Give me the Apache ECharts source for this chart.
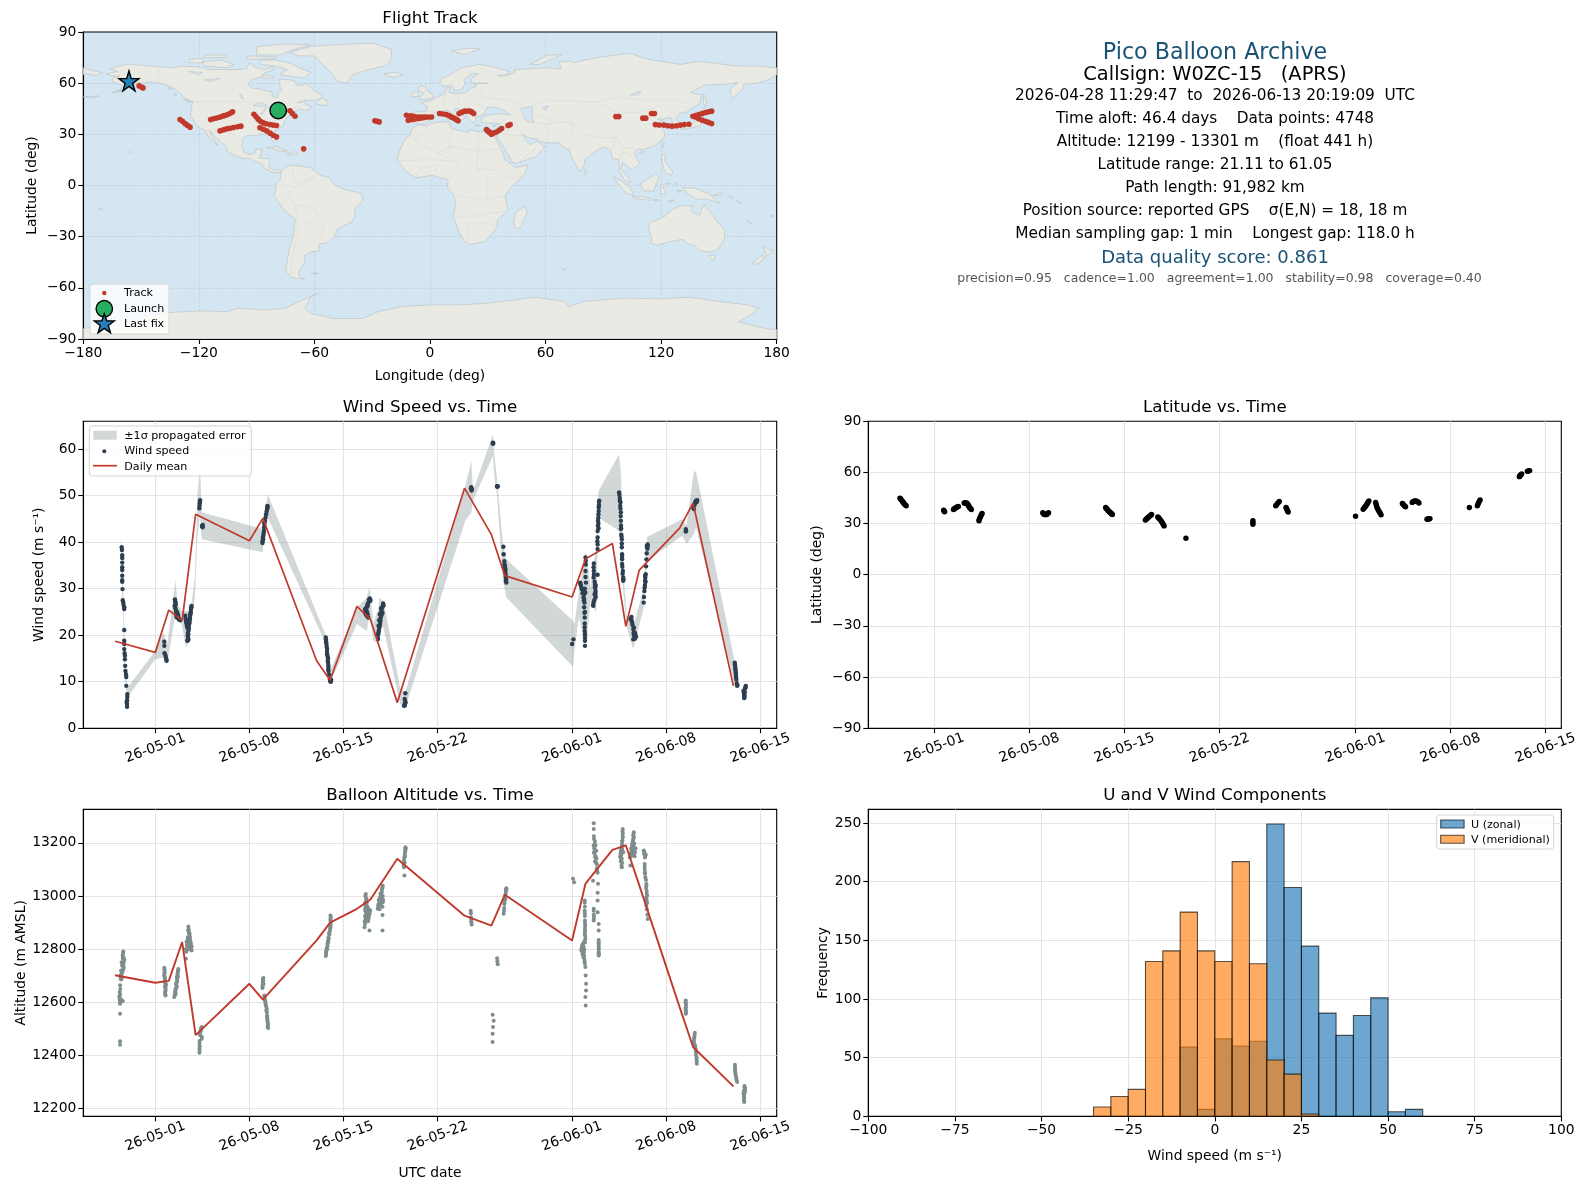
<!DOCTYPE html>
<html><head><meta charset="utf-8">
<script src="https://cdn.jsdelivr.net/npm/echarts@6/dist/echarts.min.js"></script>
<style>html,body{margin:0;padding:0;background:#fff}#c{width:1587px;height:1189px}</style>
</head><body><div id="c"></div>
<script>
// ---------- DATA (days are counted from 2026-05-01 00:00 UTC) ----------
const dateTicks = [0, 7, 14, 21, 31, 38, 45];
const dateTickLabels = ['26-05-01','26-05-08','26-05-15','26-05-22','26-06-01','26-06-08','26-06-15'];

const trackLonLat = [[-151,58.4],[-149.5,57.6],[-149,57.2],
[-129.8,38.7],[-128.5,37.6],[-127.2,36.3],[-126,35.3],[-124.6,34.2],
[-113.9,38.7],[-112.4,39.1],[-110.8,39.6],[-109,40.1],[-107.3,40.8],[-106,41.2],[-104.7,41.8],[-103.5,42.5],[-102.5,43.2],
[-109,32],[-107.3,32.6],[-105.6,33.2],[-103.9,33.6],[-102.1,34],[-100,34.4],[-98.2,34.8],
[-91.4,41.8],[-90.3,40.3],[-89.2,38.9],[-88,37.7],[-86.6,36.7],[-85,36.2],[-83.1,35.7],[-81.4,35.4],[-79.7,35.2],
[-88.3,33.8],[-86.5,33],[-84.8,32],[-83,30.7],[-81.4,29.5],[-79.7,28.5],
[-72.7,43.8],[-71.4,42.2],[-70.1,40.6],[-65.6,21.5],
[-28.6,37.9],[-27.4,37.7],[-26.4,37.3],
[-12.2,41.2],[-10,40.9],[-8.5,40.6],[-7,40.2],[-5.5,40.2],[-4,40.2],[-2.5,40.2],[-1,40.2],[0.8,40.2],[-11.3,38.3],[-9.5,38.7],[-7.8,39],[-6,39.3],[-4.5,39.6],[-3,39.9],
[5,42.2],[6.8,41.9],[8.5,41.6],[10,40.9],[11.1,40.2],[12,39.7],[12.8,39.3],[13.8,38.6],[14.6,37.9],
[15.1,42.2],[16.5,43],[18,43.6],[19.4,43.7],[20.7,43.6],[21.8,43],[22.7,42.2],
[29.3,32.8],[30.5,31.5],[31.9,30.1],[33.2,30.8],[34.5,31.4],[35.9,32.4],[37.2,33.4],[30,32],[31.2,31],[32.5,30.6],[40.5,35.2],[41.6,35.7],
[96.5,40.4],[98,40.4],[110.5,39.5],[112,39.5],[115,42.2],[116.5,42.2],
[117,35.7],[119,35.5],[121.4,35.4],[123.5,35],[125.7,34.8],[128,35],[130,35.4],[132,35.7],[134.4,35.9],
[136.5,40.6],[138,41],[139.5,41.6],[141.3,42.2],[143,42.8],[144.6,43.2],[146.2,43.6],
[137.8,40.2],[139.5,39.2],[141.3,38.3],[143,37.6],[144.6,37],[146.2,36.3]];
const launchLonLat = [-78.8, 44];
const lastFixLonLat = [-156.3, 61.3];

const windPoints = [[-2.5,38.9],[-2.48,38.3],[-2.46,37.2],[-2.46,36.6],[-2.46,35.6],[-2.46,34.6],[-2.46,34],[-2.46,32.8],[-2.46,31.8],[-2.46,31.5],[-2.44,29.9],[-2.42,27.5],[-2.38,27],[-2.36,26.5],[-2.31,26],[-2.31,25.6],[-2.31,21.1],[-2.31,18.8],[-2.31,18.1],[-2.31,17],[-2.28,16.1],[-2.26,15.6],[-2.26,14.8],[-2.24,13.4],[-2.22,12.3],[-2.18,11.6],[-2.16,11],[-2.16,9.1],[-2.08,7.3],[-2.08,6.7],[-2.1,6],[-2.13,5.5],[-2.1,5.2],[-2.1,4.6],
[0.67,18.6],[0.67,17.7],[0.69,16.1],[0.76,15.6],[0.79,15.2],[0.82,14.8],[0.84,14.5],
[1.46,27.7],[1.5,27],[1.44,26.3],[1.54,25.2],[1.62,25],[1.68,24.5],[1.6,23.8],[1.75,23.4],[1.84,23.2],[1.56,24.2],[1.7,24],
[1.52,26.6],[1.5,25.8],[1.58,24.6],[1.64,24.3],[1.72,23.8],[1.8,23.4],[1.48,27.3],
[2.23,24.2],[2.28,23.1],[2.33,22.4],[2.38,21.6],[2.46,20.9],[2.41,19.9],[2.46,19.1],[2.38,18.8],[2.58,23.8],[2.63,24.9],[2.68,25.9],[2.7,26.3],[2.55,22.6],[2.5,21.4],[2.45,20.2],[2.6,24.4],
[2.26,23.6],[2.3,22.8],[2.35,22],[2.42,20.5],[2.44,19.5],[2.43,18.9],[2.5,22],[2.53,23],[2.57,23.4],[2.62,24.6],[2.65,25.4],[2.67,26],
[3.33,49],[3.3,48.3],[3.28,47.3],[3.5,43.4],[3.53,43.7],[3.32,48.7],[3.29,47.8],[3.47,43.5],[3.52,43.2],
[7.97,39.8],[8.02,40.6],[8.04,41.4],[8.08,42.4],[8.09,43.2],[8.16,44.6],[8.24,46],[8.31,47.1],[8.36,47.6],
[7.98,40.2],[8,41],[8.06,41.9],[8.12,43.9],[8.2,45.3],[8.28,46.6],[8.33,47.3],[8.34,47.8],[8.1,44.2],
[12.68,19.5],[12.7,18.8],[12.73,18.1],[12.78,17],[12.78,15.9],[12.85,15],[12.85,14.1],[12.88,13.2],[12.88,12.3],[12.99,10.5],[13.04,10],[13.08,10.4],
[12.69,19.1],[12.71,18.4],[12.75,17.5],[12.77,16.4],[12.82,15.4],[12.83,14.5],[12.87,13.6],[12.87,12.7],[12.93,11.5],[13,10.2],[13.06,10.1],
[15.6,25.6],[15.73,26],[15.8,26.3],[15.93,27.4],[15.98,27.7],[15.66,24.5],[15.84,23.8],[15.75,25],[15.7,25.2],
[15.62,25],[15.68,25.8],[15.78,26.6],[15.85,27],[15.9,27.7],[15.95,27.9],[15.72,24.2],[15.8,24.5],[15.62,24.8],[16,27.4],
[16.55,19.9],[16.6,20.6],[16.67,21.6],[16.75,23.1],[16.8,24.9],[16.87,25.9],[16.95,26.8],[16.6,22],[16.72,22.5],[16.8,25.8],[16.9,24.8],
[16.58,20.2],[16.63,21],[16.7,22],[16.77,23.8],[16.83,25.4],[16.92,26.3],[16.98,26.4],[16.65,23.2],[16.7,24.5],[16.82,24.3],[16.57,19.2],
[18.6,7.5],[18.58,5.9],[18.5,4.8],[18.55,5.2],[18.55,6.3],[18.62,5.5],[18.56,4.9],
[23.48,51.6],[23.55,51.4],[23.5,51.8],[23.52,51.1],[25.1,61.2],[25.14,61.2],[25.12,61.4],[25.42,52],[25.47,52],[25.44,51.9],
[25.89,39],[25.91,37.4],[25.96,35.9],[26,35],[26.05,34],[26.06,33],[26.09,32],[26.11,31.3],[25.97,35.2],[26.02,34.5],[26.03,33.5],[26.07,32.5],[26.09,31.6],[25.98,34.4],
[31,18.1],[31.1,19.1],
[31.6,31.3],[31.72,29.9],[31.85,28.1],[31.9,26],[31.94,23.8],[31.94,20.9],[31.96,19.5],[31.96,18.8],[31.96,17.7],[32,36.7],[32,33.8],[32.03,31.3],[31.98,29.2],[31.92,27],[31.96,25],[31.94,22.5],
[31.65,30.7],[31.78,29],[31.88,27.5],[31.7,30.2],[31.62,31],[31.82,29.4],[31.9,28.8],[31.92,24.8],[31.94,21.7],[31.96,20.2],[32.02,35.2],[32,32.5],[31.95,30],[31.9,27.8],[32.02,36],
[32.62,35.4],[32.62,33.8],[32.6,32.4],[32.7,31],[32.75,29.5],[32.75,28.1],[32.58,26.3],[32.9,38.5],[32.9,41],[32.9,42.4],[32.93,44.6],[32.96,46],[32.98,47.5],[33,48.7],[32.9,33],[32.65,27.5],[32.72,30.2],[32.92,43.5],[32.95,45.2],
[32.6,34.6],[32.62,33],[32.68,31.5],[32.7,30.3],[32.73,29],[32.68,28.8],[32.6,27],[32.56,26.5],[32.74,28.5],[32.76,30.7],[32.9,39.5],[32.88,40.2],[32.96,44],[32.98,46.7],[33,48],[33.02,48.9],[32.97,43],
[34.5,50.7],[34.55,49.5],[34.58,47.8],[34.63,46.4],[34.63,44.6],[34.63,42.8],[34.7,40.6],[34.7,38.9],[34.72,37.4],[34.72,35.3],[34.78,33.8],[34.8,32.4],[34.8,31.7],[34.6,48.6],[34.66,41.6],[34.72,36.3],
[34.52,50.2],[34.55,48.9],[34.6,47.2],[34.62,45.6],[34.64,43.6],[34.68,41.2],[34.7,39.7],[34.72,36.8],[34.74,34.7],[34.76,33.2],[34.82,32],[34.65,43],
[35.35,23.4],[35.47,22.7],[35.6,21.6],[35.65,20.6],[35.68,19.5],[35.55,19.1],[35.75,19.7],[35.42,23.9],[35.6,20.2],
[35.38,23.6],[35.44,23.1],[35.5,22.2],[35.55,21.3],[35.58,20.5],[35.62,19.8],[35.7,20.3],[35.65,19.2],[35.72,19.5],
[36.33,27],[36.38,29.5],[36.43,31.7],[36.48,33.1],[36.53,36.3],[36.58,38.9],[36.63,39.2],[36.45,32.4],
[36.35,28.2],[36.4,30.3],[36.42,30.8],[36.5,34.8],[36.55,37.6],[36.6,38.6],[36.62,39.5],[36.56,39.2],[36.47,31.5],[36.43,32.8],
[39.46,42.8],[39.46,42.3],[39.48,42.5],[40.06,47.1],[40.18,48.7],[40.3,49],[40.1,48],[40.12,48.2],[40.22,48.9],[40.26,48.6],[40.02,47.4],[40.14,48.4],
[43.1,14.1],[43.15,12.7],[43.2,10.9],[43.28,9.1],[43.13,13.4],[43.18,11.8],[43.75,8],[43.8,6.5],[43.92,9.1],[43.82,7.2],[43.87,8.6],
[43.11,13.7],[43.14,13],[43.17,12.2],[43.19,11.3],[43.22,10.4],[43.25,9.6],[43.3,9.3],[43.78,7.6],[43.8,7],[43.83,6.7],[43.85,7.8],[43.9,8.8]];
const bandDays = [-2.53,-2.46,-2.38,-2.31,-2.18,-2.08,0,0.6,0.89,1.22,1.51,1.64,1.96,2.28,2.58,2.7,2.95,3.13,3.33,3.45,7.99,8.16,8.36,12.7,13,15,15.73,15.93,16.23,16.6,16.67,16.97,18.21,18.59,23.06,23.51,23.63,25.12,25.22,25.42,25.86,26.11,31.07,31.17,31.5,32.02,32.37,32.79,32.96,34.5,34.65,34.8,35.09,35.54,36.33,36.58,39.19,39.51,40.06,40.23,43.08];
const bandHigh = [41,38.9,29.5,21.6,11.6,8.7,16.6,20.6,18.1,25.2,32,26.7,25.2,25.2,25.2,27,32.4,50.3,56.4,46.4,42.8,46,50.3,19.9,12.3,25.9,28.1,30.4,22.4,25.9,28.1,27.4,8.7,7.7,52.1,57.5,51,63.2,58.9,53.5,39.6,36.3,23.1,22.4,29.2,38.1,30.3,39.2,51,58.9,53.9,33.8,23.8,21.6,30.3,41.1,44.9,43.5,55.3,55,14.5];
const bandLow = [36.7,28.1,23.1,11.6,8.7,6.6,14.8,15.2,14.1,19.5,25.2,23.4,22.4,17.3,19.5,23.8,28.1,41,46,40.6,37.8,43.2,45.3,18.1,9.8,22.4,20.9,24.5,18.8,18.1,22.4,21.6,5.2,4.4,44.6,46.4,48.9,58.6,53.9,50,31.7,28.1,13.2,16.6,23.8,17.3,27.4,24.9,45.3,42.4,39.6,29.5,21.6,17,25.9,36,41.4,39.6,41.7,43.2,9.5];
const meanDays = [-3,0,1,2,3,7,8,12,13,15,16,18,23,25,26,31,32,34,35,36,39,40,43];
const windMean = [18.7,16.3,25.4,23.2,46,40.3,45.1,14.5,10.3,26.2,23.4,5.5,51.6,41.6,32.8,28.2,36.4,39.7,21.9,34,43,48.4,9.1];
const altMean = [12702,12674,12681,12827,12477,12670,12610,12833,12900,12952,12987,13140,12926,12889,13005,12833,13047,13174,13191,13040,12582,12432,12284];

const altPoints = [[-2.38,12791],[-2.43,12776],[-2.5,12751],[-2.38,12739],[-2.3,12760],[-2.35,12730],[-2.55,12720],[-2.6,12701],[-2.55,12686],[-2.45,12745],[-2.5,12710],[-2.62,12664],[-2.65,12639],[-2.68,12620],[-2.62,12595],[-2.42,12605],[-2.65,12610],[-2.62,12557],[-2.62,12454],[-2.62,12441],
[-2.4,12785],[-2.37,12770],[-2.42,12765],[-2.35,12750],[-2.47,12738],[-2.4,12722],[-2.45,12715],[-2.52,12700],[-2.58,12692],[-2.5,12690],[-2.6,12650],[-2.62,12630],[-2.65,12625],[-2.63,12600],[-2.55,12612],
[0.67,12730],[0.67,12707],[0.7,12682],[0.79,12664],[0.76,12645],[0.76,12626],[0.68,12718],[0.7,12695],[0.75,12672],[0.75,12655],[0.72,12635],
[0.69,12725],[0.7,12712],[0.66,12700],[0.72,12690],[0.74,12678],[0.78,12668],[0.77,12650],[0.74,12640],[0.75,12630],[0.72,12660],
[1.71,12726],[1.66,12701],[1.59,12676],[1.54,12651],[1.46,12630],[1.41,12620],[1.68,12714],[1.62,12688],[1.56,12664],[1.5,12640],
[1.7,12720],[1.65,12708],[1.6,12695],[1.63,12680],[1.55,12670],[1.6,12660],[1.5,12650],[1.47,12640],[1.44,12625],[1.52,12632],[1.68,12695],
[2.46,12885],[2.51,12864],[2.58,12845],[2.65,12820],[2.7,12795],[2.33,12827],[2.28,12801],[2.28,12764],[2.48,12875],[2.55,12855],[2.6,12833],[2.68,12808],[2.4,12835],[2.35,12815],[2.5,12820],[2.45,12800],
[2.45,12870],[2.52,12860],[2.5,12845],[2.55,12840],[2.42,12845],[2.37,12830],[2.45,12815],[2.62,12825],[2.3,12790],[2.38,12800],[2.6,12810],[2.55,12825],[2.65,12800],[2.7,12810],[2.48,12835],
[3.45,12507],[3.33,12488],[3.45,12463],[3.28,12444],[3.28,12426],[3.28,12410],[3.4,12498],[3.35,12475],[3.42,12503],[3.38,12492],[3.47,12470],[3.32,12480],[3.3,12455],[3.3,12435],[3.3,12418],
[8.04,12692],[7.99,12676],[7.97,12654],[8.03,12682],[7.98,12665],[8.11,12626],[8.19,12601],[8.29,12576],[8.31,12551],[8.36,12526],[8.39,12504],[8.14,12613],[8.22,12590],[8.3,12563],[8.34,12538],[8.38,12515],
[8,12688],[8.05,12670],[7.98,12660],[8.01,12685],[8.12,12620],[8.16,12608],[8.2,12595],[8.24,12585],[8.26,12570],[8.32,12545],[8.33,12532],[8.37,12520],[8.35,12508],
[13.03,12927],[13.05,12895],[13,12877],[12.88,12845],[12.8,12820],[12.7,12789],[12.68,12774],[13.03,12912],[13.02,12886],[12.93,12860],[12.84,12832],[12.75,12805],
[13.05,12920],[13.04,12905],[13.03,12880],[12.98,12868],[12.95,12855],[12.9,12838],[12.86,12826],[12.82,12812],[12.78,12800],[12.72,12795],[12.7,12780],
[15.66,13008],[15.73,12977],[15.61,12946],[15.98,12946],[15.63,12908],[15.85,12914],[15.56,12883],[15.93,12870],[15.7,12992],[15.78,12960],[15.68,12930],[15.9,12930],[15.8,12925],[15.6,12895],
[15.62,13000],[15.68,12985],[15.7,12970],[15.75,12960],[15.65,12965],[15.62,12955],[15.7,12945],[15.8,12950],[15.85,12940],[15.9,12950],[15.95,12935],[15.6,12925],[15.65,12915],[15.72,12910],[15.82,12905],[15.58,12905],[15.88,12920],[15.66,12940],[15.6,12975],
[16.92,13039],[16.85,13014],[16.72,12996],[16.55,12952],[16.65,12964],[16.92,12977],[16.9,12929],[16.9,12870],[16.88,13027],[16.78,13005],[16.6,12970],[16.8,12985],[16.7,12980],
[16.9,13032],[16.85,13025],[16.82,13000],[16.75,13010],[16.7,12990],[16.62,12985],[16.6,12958],[16.68,12950],[16.78,12970],[16.86,12990],[16.92,13000],[16.95,12985],[16.9,12960],[16.58,12965],[16.72,12975],
[18.61,13184],[18.58,13165],[18.53,13146],[18.46,13121],[18.5,13108],[18.53,13077],[18.6,13175],[18.55,13155],[18.6,13170],[18.57,13150],[18.5,13135],[18.48,13115],[18.55,13125],[18.62,13180],
[23.46,12945],[23.48,12920],[23.53,12893],[23.5,12905],[23.47,12935],[23.5,12915],[23.52,12900],
[26.11,13029],[26.03,13002],[25.96,12970],[25.91,12933],[26.08,13016],[26,12985],[26.09,13022],[26.1,13026],[26.05,13008],[26,12995],[25.97,12975],[25.95,12955],[26.04,12990],[25.93,12945],
[25.42,12766],[25.47,12743],[25.44,12755],[25.09,12553],[25.17,12531],[25.12,12507],[25.09,12482],[25.09,12451],
[31.07,13065],[31.15,13052],[31.94,12983],[31.94,12945],[31.96,12908],[31.96,12870],[31.99,12839],[31.74,12808],[31.86,12789],[31.91,12764],[31.99,12733],[32.01,12701],[32.04,12670],[32.04,12645],[31.99,12620],[32.01,12588],[31.7,12795],[31.8,12820],[31.85,12770],[31.95,12960],[31.95,12925],[31.97,12890],[31.95,12855],[31.9,12800],[31.78,12780],[31.92,12830],
[31.7,12800],[31.75,12815],[31.8,12800],[31.85,12810],[31.88,12795],[31.82,12785],[31.76,12790],[31.72,12805],[31.9,12775],[31.93,12755],[31.95,12745],[31.94,12975],[31.95,12935],[31.96,12900],[31.96,12880],[31.95,12865],[31.98,12850],[31.96,12825],
[32.61,13274],[32.61,13252],[32.63,13215],[32.74,13190],[32.66,13159],[32.81,13140],[32.86,13096],[32.56,13058],[32.93,13046],[32.9,13012],[32.9,12983],[32.9,12939],[32.61,12952],[32.61,12908],[32.98,12895],[32.98,12870],[32.98,12826],[32.98,12801],[32.98,12776],[32.7,13205],[32.65,13180],[32.8,13170],[32.72,13145],[32.85,13120],[32.61,12930],[32.98,12812],[32.98,12790],
[32.62,13225],[32.68,13195],[32.72,13170],[32.6,13190],[32.63,13165],[32.75,13150],[32.7,13130],[32.78,13125],[32.85,13105],[32.9,13088],[32.61,12945],[32.63,12925],[32.61,12915],[32.98,12835],[32.98,12820],[32.98,12805],[32.98,12785],[32.98,12780],
[34.77,13252],[34.77,13221],[34.72,13190],[34.6,13159],[34.65,13134],[34.7,13108],[34.77,13238],[34.72,13205],[34.68,13175],[34.6,13145],[34.72,13125],
[34.75,13245],[34.76,13230],[34.74,13210],[34.72,13195],[34.7,13180],[34.62,13170],[34.58,13150],[34.66,13155],[34.7,13140],[34.62,13130],[34.68,13115],[34.75,13170],[34.8,13165],
[35.59,13240],[35.54,13215],[35.46,13190],[35.64,13165],[35.29,13159],[35.34,13115],[35.55,13228],[35.5,13202],[35.6,13180],[35.42,13170],[35.65,13150],[35.55,13190],
[35.57,13232],[35.6,13220],[35.52,13208],[35.48,13195],[35.62,13198],[35.58,13170],[35.5,13175],[35.45,13160],[35.4,13180],[35.68,13165],[35.65,13175],[35.3,13145],[35.6,13155],[35.38,13150],[35.72,13180],
[36.33,13171],[36.45,13152],[36.4,13121],[36.43,13083],[36.53,13039],[36.58,13002],[36.53,12964],[36.63,12914],[36.35,13158],[36.4,13100],[36.5,13060],[36.55,13020],[36.55,12985],
[36.38,13165],[36.42,13145],[36.4,13110],[36.42,13090],[36.45,13070],[36.52,13045],[36.5,13030],[36.55,13010],[36.52,12995],[36.58,12975],[36.56,12950],[36.6,12930],[36.48,13155],
[39.46,12607],[39.46,12582],[39.46,12557],[39.46,12595],[39.46,12570],[39.44,12600],[39.48,12590],[39.44,12575],[39.48,12562],
[40.13,12486],[40.06,12457],[40.18,12426],[40.26,12394],[40.28,12369],[40.1,12470],[40.14,12440],[40.22,12410],[40.12,12478],[40.08,12465],[40.05,12450],[40.16,12432],[40.2,12418],[40.22,12402],[40.26,12385],[40.27,12378],
[43.11,12365],[43.13,12344],[43.2,12319],[43.28,12300],[43.15,12332],[43.83,12281],[43.78,12263],[43.78,12244],[43.8,12225],[43.85,12272],[43.78,12253],[43.8,12235],
[43.12,12358],[43.12,12350],[43.14,12338],[43.17,12325],[43.22,12312],[43.25,12305],[43.82,12285],[43.86,12278],[43.8,12268],[43.76,12258],[43.78,12248],[43.84,12260],[43.8,12240],[43.79,12230],[43.85,12265]];

const latPoints = [[-2.53,44.9],[-2.37,43.3],[-2.2,41.4],[-2.07,40.4],[-2.45,44.1],[-2.28,42.3],
[0.69,37.8],[0.76,36.9],[1.41,38.2],[1.61,39.4],[1.77,40],[1.5,38.8],[2.2,42],[2.43,41.8],[2.6,39.4],[2.73,38.2],[2.3,42.1],[2.52,40.6],
[3.29,31.6],[3.35,33.1],[3.52,35.9],[3.43,34.5],[7.99,36.3],[8.08,35.5],[8.28,35.3],[8.41,36.3],[8.18,35.3],
[12.62,39.4],[12.78,37.8],[12.95,36.5],[13.11,35.3],[12.7,38.6],[12.87,37.1],[13.03,35.9],
[15.54,32],[15.74,33.5],[16,35.3],[15.64,32.8],[15.87,34.4],[16.46,33.9],[16.66,32],[16.92,28.6],[16.56,33],[16.8,30.3],
[18.53,21.4],[23.46,31.6],[23.46,29.6],[25.14,40.4],[25.4,42.9],[25.9,39.4],[26.06,36.7],[25.98,38],
[31.02,34.3],[31.58,38.4],[31.78,40.4],[32,43.3],[31.68,39.4],[31.9,41.9],[32.5,42.4],[32.66,38.4],[32.9,35.1],[32.56,40.4],[32.78,36.7],
[34.47,41.8],[34.7,39.8],[34.58,40.7],[35.19,42.4],[35.39,43.3],[35.69,42],[35.55,43],[36.28,32.5],[36.5,32.9],[36.39,32.7],
[39.4,39.4],[39.99,40.4],[40.19,43.9],[40.08,42.2],[43.08,57.5],[43.25,59],[43.16,58.3],[43.67,60.6],[43.84,61.05],
[-2.49,44.5],[-2.33,42.8],[-2.24,41.9],[-2.13,40.9],[0.72,37.3],[1.46,38.5],[1.56,39.1],[1.68,39.7],[2.25,42.1],[2.37,42],[2.48,41],[2.56,40],[2.66,38.8],[3.31,32.3],[3.39,33.8],[3.47,35.2],[8.03,35.9],[8.13,35.3],[8.23,35.3],[8.34,35.8],[12.66,39],[12.74,38.2],[12.83,37.4],[12.91,36.8],[12.99,36.2],[13.07,35.6],[15.59,32.4],[15.69,33.1],[15.8,34],[15.93,34.9],[16.5,33.5],[16.6,32.6],[16.73,31.2],[16.86,29.5],[23.46,30.6],[25.2,41],[25.3,42],[25.94,38.8],[26.02,37.3],[31.63,38.9],[31.73,39.9],[31.84,41.2],[31.95,42.7],[32.53,41.4],[32.6,39.4],[32.72,37.5],[32.84,36],[34.52,41.3],[34.64,40.2],[35.25,42.8],[35.32,43.1],[35.47,43.2],[35.62,42.6],[36.33,32.6],[36.45,32.8],[40.03,41.2],[40.14,43],[43.12,57.9],[43.2,58.7],[43.72,60.8],[43.78,60.9]];

const binEdges = [-35,-30,-25,-20,-15,-10,-5,0,5,10,15,20,25,30,35,40,45,50,55,60];
const uCounts = [0,0,0,0,0,59,6,66,60,64,249,195,145,88,69,86,101,4,6];
const vCounts = [8,17,23,132,141,174,141,132,217,130,48,36,2,0,0,0,0,0,0];

const landPolygons = [
[[-168,65.5],[-164,66.5],[-162,66.8],[-166,68.3],[-163,69.5],[-157,71.2],[-150,70.5],[-141,69.6],[-135,69],[-128,70],[-120,69.5],[-115,68],[-108,68],[-100,68],[-95,68.5],[-94,72],[-90,69],[-86,68],[-82,69.5],[-81,68],[-86,66],[-87,64],[-93,62],[-94.5,59],[-92,57],[-88,56.5],[-85,55.3],[-82,55],[-82,52.5],[-80,51.3],[-79,52],[-79,54.5],[-77,56],[-78,58.5],[-78,62.3],[-73,62],[-70,61],[-69.5,59],[-66,58.5],[-64.5,60.2],[-62,57.5],[-60,55.5],[-56,53],[-56,51.5],[-60,50],[-66,50],[-69,48.5],[-65,49],[-64.5,47.5],[-61,46],[-65,43.8],[-67,45],[-70,43.5],[-71,41.5],[-74,40.5],[-75.5,38],[-76,35],[-78,33.8],[-81,31.5],[-81,29],[-80,26],[-81,25.2],[-82.7,28],[-84,30],[-88,30.3],[-90,29.2],[-94,29.5],[-97,28],[-97.5,25],[-97.7,22],[-96,19],[-94,18.2],[-91,18.8],[-90.5,21],[-87,21.5],[-88,18],[-88.5,16],[-84,15.8],[-83.3,14],[-83.7,11],[-81,9],[-78,9.3],[-77.3,8],[-78.5,7.5],[-80,7.5],[-83,8.3],[-85.7,10],[-87.5,13],[-91,14],[-94.5,16.2],[-97,15.8],[-101,17.3],[-105.5,20],[-105.5,22.5],[-109,26],[-112.5,30],[-114.7,31.7],[-113,28.5],[-110,23.5],[-112,25],[-115,28.5],[-117,32.5],[-120.5,34.5],[-122.5,37.5],[-124.3,40.5],[-124,46],[-123,49],[-127,51],[-130,54.5],[-133,57],[-137,59],[-140,60],[-146,60.8],[-151,59.5],[-150.5,61],[-154,59],[-158,57],[-163,55],[-158,58.5],[-162,59.5],[-165,61],[-165,63],[-161,64],[-166,64.6]],
[[-73,78],[-68,76],[-60,76],[-55,70],[-51,66],[-48,61],[-43,60],[-40,65],[-32,68],[-22,70.5],[-20,75],[-20,80],[-30,83.5],[-50,82.5],[-62,81.5]],
[[-80,73.5],[-72,71.5],[-68,69],[-62,66.5],[-65,63],[-72,64],[-78,65],[-74,68],[-80,70],[-88,71],[-88,73.5]],
[[-117,70],[-105,69],[-102,71],[-108,73.5],[-118,72.5]],
[[-90,76.5],[-78,76.5],[-70,80],[-62,82.5],[-75,83],[-90,81.5]],
[[-125,72],[-118,72],[-118,74.5],[-125,74]],
[[-95,74],[-80,74.5],[-80,75.5],[-95,76]],
[[-117,75],[-106,75],[-106,76.5],[-117,76.5]],
[[-87,65],[-81,63.5],[-83,62.5],[-87,63.5]],
[[-59,47.7],[-53,46.7],[-53,49],[-56,51.5],[-59,48.5]],
[[-85,22],[-80,23],[-74.2,20.2],[-78,20],[-82,22]],
[[-74.4,18.5],[-70,19.8],[-68.4,18.6],[-71,18]],
[[-156,20],[-155,19.5],[-155.7,19]],
[[-128,50.7],[-124,49],[-125.5,48.8]],
[[-77,8.5],[-75,11],[-72,12],[-68,11.5],[-62,10.5],[-60,8.5],[-57,6],[-52,4.5],[-50,0.5],[-44,-2.5],[-39,-3.5],[-35,-5.5],[-35,-9],[-39,-14],[-39,-18],[-41,-22],[-45,-23.5],[-48.5,-26],[-49,-29],[-53,-33.5],[-58,-34.5],[-57,-38],[-62,-39],[-65,-41],[-65,-45],[-68,-50],[-68,-53],[-65,-55],[-72,-54],[-75,-50],[-74,-43],[-73,-37],[-71,-30],[-70,-20],[-76,-14],[-81,-6],[-80,-2.5],[-80,1],[-77.5,4],[-77.5,7]],
[[-6,35.8],[-2,35],[3,37],[10,37.3],[11,33.5],[15,32.3],[20,31],[20,32.8],[25,31.7],[32,31.2],[34,28],[37,21],[39,15],[43,12],[44,10.5],[51,12],[49,6],[42,-1],[39,-6],[40.5,-15],[35,-20],[35,-24],[32.5,-28],[28,-33],[20,-34.8],[18,-33],[15,-27],[12,-18],[13.5,-10],[12,-5],[9,-1],[9.5,3.5],[6,4.3],[1,6],[-4,5],[-8,4.5],[-13,9],[-17,14.5],[-16,20],[-13,27],[-10,30],[-9.5,33]],
[[49.3,-12],[50.4,-16],[47,-25],[44,-25],[43.5,-21],[44.5,-16]],
[[-9,37],[-9.5,39],[-9,43],[-2,43.5],[-1,46],[-4.5,48.5],[1,50],[4,52],[8,54],[8.5,57],[10.5,57.5],[10,54.5],[14,54],[19,54.5],[21,57],[24,58],[23,59.5],[30,60],[23,60],[21,61],[22,63],[25,65.5],[22,65.8],[17.5,62],[18.5,60],[16.5,56.5],[13,55.5],[11,59],[7,58],[5,60],[5.5,62],[12,66],[16,69],[25,71],[31,70],[41,67],[40,65],[35,64.5],[38,64],[44,66],[44,68],[54,68.5],[60,69],[68,68.5],[67,72.5],[72,73],[75,72],[80,73.5],[90,75.5],[104,77.5],[113,74],[130,71],[140,72.8],[160,70],[170,70],[180,69],[180,65],[177,62.5],[170,60],[163,59.5],[162,56],[157,51],[155.5,56],[160,60.5],[155,59.5],[143,59],[135,54.5],[141,53],[140,48],[133,43],[130,42.5],[127.5,39.5],[129.5,36],[127,34.5],[126,37],[125,40],[121,39],[118,39],[122,37],[119.5,35],[122,31],[121.5,28],[117,23.5],[110.5,21],[108,21.5],[106,19],[109,13],[105,9],[103,11],[100,13.5],[99,10],[103.5,4],[104,1.5],[101,3],[98.5,8],[98,15],[94.5,16],[94,20],[91,22.5],[87,21],[80.5,15.5],[80,12],[77.5,8],[73,18],[72.5,21],[69,22.5],[67,25],[61,25],[57,26],[56,27],[51,28],[48,30],[50,26],[52,24],[56,26],[59.5,22.5],[55,17],[45,13],[43,13.5],[39,21],[35,28],[34.5,31],[36,36.5],[30,36.5],[27,37],[26.5,39.5],[29,41],[35,42],[41.5,41.5],[37,45],[33,46],[30,46],[28,42],[26,40.8],[23.5,40],[24,38],[22.5,36.5],[20,39.5],[18.5,42.5],[13.5,45.5],[12.5,44],[18.5,40],[16,38],[12,42],[8.5,44.3],[3,43],[0,40],[-0.5,38],[-2,36.8],[-5.5,36]],
[[-180,69],[-175,67.5],[-170,66],[-173,64.5],[-178,65.5],[-180,65]],
[[-5.5,50],[1.5,51.3],[1.5,53],[-2,56],[-2,57.7],[-5,58.6],[-6,56],[-3,54],[-5,52]],
[[-10,52],[-6,52.2],[-6,55],[-9,54.5]],
[[-24,65.5],[-18,66.3],[-14,65],[-18,63.4],[-22,64]],
[[11,79],[20,80.5],[26,80],[18,76.7]],
[[52,71],[57,71],[69,77],[60,76]],
[[142,54],[143.5,50],[143,46],[142,48]],
[[130,33],[131,34.5],[136,36],[140,40],[141.5,41],[141.5,37],[140,35],[136,34],[132,33]],
[[140,42],[142,45.5],[145.5,43.5],[143,42]],
[[120,23],[121.5,25],[121,22]],
[[120,18],[122,18],[122,14],[126,8],[125.5,6],[122,7.5],[120.5,14]],
[[109,1],[114,4.5],[117,7],[119,5],[117.5,1],[116,-3.5],[111,-3]],
[[95,5.5],[100,2],[104,-1.5],[106,-6],[102,-4.5],[97,2]],
[[105,-6.5],[110,-6.5],[114.5,-7.5],[114,-8.7],[106,-7.5]],
[[119.5,-5],[120,0.5],[125,1.5],[121,-1],[122.5,-5]],
[[131,-1],[138,-1.7],[145,-5],[150.5,-10.5],[144,-8],[138,-8],[133,-4]],
[[114,-22],[122,-18],[126,-14],[130,-12],[136,-12],[136,-15.5],[140,-17.5],[142,-11],[145,-15],[149,-21],[153,-26],[153,-31],[150,-37],[146,-39],[143,-38.7],[140,-38],[137,-35],[135,-35],[131,-31.5],[124,-33],[118,-35],[115,-34],[115,-30],[113.5,-26]],
[[145,-41],[148,-41],[147.5,-43.5],[146,-43.5]],
[[173,-35],[176,-37.5],[178.5,-38],[175,-41.5],[174,-39]],
[[172.5,-41],[174,-42],[170.5,-46],[167,-46],[170,-43]],
[[80,9.5],[82,7.5],[80.5,6]],
[[12.5,38],[15.5,38.2],[15,36.7]],[[8.2,41],[9.7,41],[9.5,39],[8.5,39]],[[8.7,43],[9.5,43],[9.3,41.5]],[[23.5,35.5],[26.3,35.3],[24.5,35]],[[32.3,35],[34.5,35.6],[33.5,34.6]],
[[108.7,19.3],[111,20],[110,18.2]],[[124,-9],[127,-8.4],[124,-10.2]],[[116,-8.3],[119,-8.3],[119,-8.9],[116,-8.9]],[[128,-3],[130.8,-3],[129,-3.6]],[[127.5,2],[128.5,1],[127.8,0]],
[[155,-6],[157,-7.5],[156,-7]],[[159,-8.5],[162,-10.5],[160,-10]],[[164,-20],[167,-22.3],[166,-22]],[[177,-17.5],[178.5,-18],[177.5,-18.4]],[[-61,-51.5],[-58,-51.5],[-59,-52.3]],[[69,-49],[70.5,-49],[70,-49.8]],[[-170,-14],[-172,-13.6]],[[146,-6],[152,-4],[151,-5.8]],[[-165,54.5],[-160,55.5],[-162,54.8]],[[-180,52],[-175,52.3],[-172,52.5],[-176,51.6]],[[-135,57.5],[-134,56],[-136,57]],[[-133,54],[-131.5,53],[-132.5,52.5]],
[[-180,-84],[-160,-79],[-150,-77],[-135,-74.5],[-120,-73.5],[-105,-74],[-100,-72],[-85,-73],[-75,-72],[-68,-68],[-58,-63.3],[-62,-65],[-65,-72],[-62,-75],[-50,-78],[-35,-78],[-27,-74],[-15,-71],[0,-70],[15,-70],[30,-69],[45,-67],[54,-65.5],[70,-68],[72,-71],[80,-68],[100,-66],[120,-66.5],[135,-65.5],[150,-68],[165,-70],[171,-72],[165,-77],[160,-80],[175,-84],[180,-84.5],[180,-90],[-180,-90]]
];
const waterPolygons = [[[47,45],[53,46.5],[53,40],[54,37],[50,37.5],[49,40.5]],
[[-92,46.8],[-88,48.8],[-85,47.5],[-84.7,46.5],[-88,46.5]],[[-88,42],[-85,46],[-86.2,43],[-87,41.7]],[[-84,46],[-81,45.8],[-80,44.6],[-82.5,43]],[[-83,41.8],[-79,42.8],[-79,42.2]],[[-80,43.4],[-76.3,44],[-76.5,43.3]],
[[-125,66.8],[-118,66.3],[-120,65]],[[-117,62],[-109,62.8],[-114,61]],[[-99,53],[-97,50.5],[-98,53.8]],
[[58.5,46],[61.5,46.5],[60,44]],[[104,53],[109.5,55.5],[108,53]]];
const borderLines = [
[[-123,49],[-95,49],[-89,48],[-83,46],[-82,42],[-79,43],[-75,45],[-71,45],[-67,47]],
[[-117,32.5],[-108,31.5],[-106,31.7],[-101,29.5],[-97.5,26]],[[-141,69.6],[-141,60]],
[[-60,5],[-70,-1],[-74,-7],[-70,-11],[-60,-14],[-58,-20],[-55,-26],[-57,-30],[-53,-33.5]],
[[-70,-20],[-68,-27],[-70,-35],[-72,-45],[-72,-52]],[[-70,-11],[-69,-20],[-62,-22],[-58,-20]],[[-77,1],[-70,-1]],[[-72,12],[-70,2],[-60,5]],
[[-9,27],[-2,32],[-2,35]],[[-9,27],[4,19],[12,23],[25,20],[37,22]],[[25,31.7],[25,20],[24,10],[34,9],[42,4],[49,6]],[[9.5,3.5],[15,10],[13,14],[4,19]],[[-17,14.5],[-5,15],[4,15],[13,14]],[[-8,4.5],[-5,10],[3,12],[3,6]],[[12,-5],[20,-7],[30,-8],[39,-6]],[[12,-18],[24,-18],[33,-16],[40.5,-15]],[[20,-34],[20,-22],[30,-22],[35,-24]],[[30,-8],[30,4],[24,10]],[[11,33],[10,22],[12,23]],
[[-2,43.5],[3,43],[8,44.3],[7,48],[8,54]],[[14,54],[15,48],[12.5,46]],[[24,58],[28,52],[24,48],[29,45]],[[28,52],[40,50],[47,48]],
[[36,36.5],[44,37],[48,30]],[[44,37],[45,39],[41.5,41.5]],[[48,39],[54,37],[61,36],[61,30],[61,25]],[[61,36],[66,37],[74,37]],[[74,37],[74,30],[70,25],[69,22.5]],
[[47,48],[52,42],[66,37]],[[53,46.5],[60,50],[87,49],[98,52],[110,50],[120,50],[127,50],[135,48],[131,43]],[[87,49],[97,42.5],[110,43],[120,47]],[[74,37],[80,30],[88,28],[97,28],[100,22],[106,22],[108,21.5]],[[94,20],[97,28]],[[98,15],[101,20],[106,16],[109,13]],[[34,31],[45,29],[48,30]],[[45,13],[52,19],[55,22]]];

// ---------- helpers ----------
const FONT = 'DejaVu Sans';
const LEFT = {left:83.3,width:693.4}, RIGHT = {left:868.3,width:693};
const ROW = [{top:32,height:307},{top:421.2,height:307},{top:809.4,height:307}];
const minus = v => String(v).replace('-','\u2212');
const gridLine = {show:true,lineStyle:{color:'#e3e3e3',width:1.1}};
const axisBase = {
  axisLine:{show:true,onZero:false,lineStyle:{color:'#000',width:1.1}},
  axisTick:{show:true,length:5,inside:false,lineStyle:{color:'#000',width:1.1}},
  nameTextStyle:{fontFamily:FONT,fontSize:13.89,color:'#000'},
  nameLocation:'middle'
};
const lblBase = {fontFamily:FONT,fontSize:13.89,color:'#000',margin:7,showMinLabel:true,showMaxLabel:true,hideOverlap:false};
function valueAxis(o){
  const ticks=o.ticks;
  return Object.assign({},axisBase,{type:'value',gridIndex:o.g,min:o.min,max:o.max,name:o.name||'',nameGap:o.gap,
    splitLine:o.split||gridLine,
    axisTick:Object.assign({},axisBase.axisTick,{customValues:ticks}),
    axisLabel:Object.assign({},lblBase,{customValues:ticks,formatter:minus})});
}
function dateAxis(g,min,max,name,gap){
  return Object.assign({},axisBase,{type:'value',gridIndex:g,min,max,name:name||'',nameGap:gap,
    splitLine:gridLine,
    axisTick:Object.assign({},axisBase.axisTick,{customValues:dateTicks}),
    axisLabel:Object.assign({},lblBase,{customValues:dateTicks,rotate:20,align:'center',verticalAlign:'middle',margin:20,
      formatter:v=>dateTickLabels[dateTicks.indexOf(+v)]||''})});
}
const grids=[
  Object.assign({},LEFT,ROW[0],{show:true,backgroundColor:'#d4e6f1',borderColor:'#000',borderWidth:1.1}),
  Object.assign({},LEFT,ROW[1],{show:true,borderColor:'#000',borderWidth:1.1}),
  Object.assign({},RIGHT,ROW[1],{show:true,borderColor:'#000',borderWidth:1.1}),
  Object.assign({},LEFT,ROW[2],{show:true,borderColor:'#000',borderWidth:1.1}),
  Object.assign({},RIGHT,ROW[2],{show:true,borderColor:'#000',borderWidth:1.1})
];
const mapSplit={show:true,showMinLine:false,showMaxLine:false,lineStyle:{color:'#9aa5ab',width:0.7,type:'dashed',opacity:.35}};
const edgeSplit=Object.assign({},gridLine,{showMinLine:false,showMaxLine:false});
const xAxes=[
  valueAxis({g:0,min:-180,max:180,ticks:[-180,-120,-60,0,60,120,180],name:'Longitude (deg)',gap:30,split:mapSplit}),
  dateAxis(1,-5.355,46.22),dateAxis(2,-4.86,46.17),dateAxis(3,-5.355,46.22,'UTC date',50),
  valueAxis({g:4,min:-100,max:100,ticks:[-100,-75,-50,-25,0,25,50,75,100],name:'Wind speed (m s\u207B\u00B9)',gap:33,split:edgeSplit})
];
const yAxes=[
  valueAxis({g:0,min:-90,max:90,ticks:[-90,-60,-30,0,30,60,90],name:'Latitude (deg)',gap:44,split:mapSplit}),
  valueAxis({g:1,min:0,max:66,ticks:[0,10,20,30,40,50,60],name:'Wind speed (m s\u207B\u00B9)',gap:37}),
  valueAxis({g:2,min:-90,max:90,ticks:[-90,-60,-30,0,30,60,90],name:'Latitude (deg)',gap:44,split:edgeSplit}),
  valueAxis({g:3,min:12171,max:13326,ticks:[12200,12400,12600,12800,13000,13200],name:'Altitude (m AMSL)',gap:52}),
  valueAxis({g:4,min:0,max:261.5,ticks:[0,50,100,150,200,250],name:'Frequency',gap:38})
];
const polyRender = (list,style) => (params,api)=>({type:'polygon',shape:{points:list[params.dataIndex].map(p=>api.coord(p))},style});
const idx = a => a.map((_,i)=>[i]);
const bandOutline = bandDays.map((d,i)=>[d,bandHigh[i]]).concat(bandDays.map((d,i)=>[d,bandLow[i]]).reverse());
function histRender(counts,color){
  return (params,api)=>{
    const i=params.dataIndex, c=counts[i];
    if(!c) return null;
    const a=api.coord([binEdges[i],c]), b=api.coord([binEdges[i+1],0]);
    return {type:'rect',shape:{x:a[0],y:a[1],width:b[0]-a[0],height:b[1]-a[1]},style:{fill:color,stroke:'#000',lineWidth:1.1,opacity:.65}};
  };
}
const STAR='path://M50 0 L61 35 L98 35 L68 57 L79 91 L50 70 L21 91 L32 57 L2 35 L39 35 Z';
const series=[
  {type:'custom',name:'Land',xAxisIndex:0,yAxisIndex:0,data:idx(landPolygons),clip:true,silent:true,z:1,encode:{x:-1,y:-1},
    renderItem:polyRender(landPolygons,{fill:'#e9e9e3',stroke:'#bcc3c7',lineWidth:.7,opacity:.97})},
  {type:'custom',name:'Inland water',xAxisIndex:0,yAxisIndex:0,data:idx(waterPolygons),clip:true,silent:true,z:1.1,encode:{x:-1,y:-1},
    renderItem:polyRender(waterPolygons,{fill:'#d4e6f1',stroke:'#bcc3c7',lineWidth:.6})},
  {type:'custom',name:'Borders',xAxisIndex:0,yAxisIndex:0,data:idx(borderLines),clip:true,silent:true,z:1.2,encode:{x:-1,y:-1},
    renderItem:(params,api)=>({type:'polyline',shape:{points:borderLines[params.dataIndex].map(p=>api.coord(p))},style:{fill:'none',stroke:'#dcdcd8',lineWidth:.7}})},
  {type:'scatter',name:'Track',xAxisIndex:0,yAxisIndex:0,data:trackLonLat,symbolSize:5.6,itemStyle:{color:'#c0392b',opacity:1},z:3},
  {type:'scatter',name:'Launch',xAxisIndex:0,yAxisIndex:0,data:[launchLonLat],symbolSize:16.5,itemStyle:{color:'#27ae60',opacity:1,borderColor:'#000',borderWidth:1.4},z:4},
  {type:'scatter',name:'Last fix',xAxisIndex:0,yAxisIndex:0,data:[lastFixLonLat],symbol:STAR,symbolSize:20,itemStyle:{color:'#2980b9',opacity:1,borderColor:'#000',borderWidth:1.4},z:4},

  {type:'custom',name:'\u00B11\u03C3 propagated error',xAxisIndex:1,yAxisIndex:1,data:[[0]],clip:true,silent:true,z:2,encode:{x:-1,y:-1},
    renderItem:(p,api)=>({type:'polygon',shape:{points:bandOutline.map(q=>api.coord(q))},style:{fill:'#7f8c8d',opacity:.35}})},
  {type:'scatter',name:'Wind speed',xAxisIndex:1,yAxisIndex:1,data:windPoints,symbolSize:4.4,itemStyle:{color:'#2c3e50',opacity:1},z:3},
  {type:'line',name:'Daily mean',xAxisIndex:1,yAxisIndex:1,data:meanDays.map((d,i)=>[d,windMean[i]]),showSymbol:false,lineStyle:{color:'#c0392b',width:1.7},z:4},

  {type:'scatter',name:'Latitude',xAxisIndex:2,yAxisIndex:2,data:latPoints,symbolSize:5.4,itemStyle:{color:'#000',opacity:1},z:3},

  {type:'scatter',name:'Altitude',xAxisIndex:3,yAxisIndex:3,data:altPoints,symbolSize:4,itemStyle:{color:'#7f8c8d',opacity:1},z:3},
  {type:'line',name:'Daily mean altitude',xAxisIndex:3,yAxisIndex:3,data:meanDays.map((d,i)=>[d,altMean[i]]),showSymbol:false,lineStyle:{color:'#c0392b',width:1.9},z:4},

  {type:'custom',name:'U (zonal)',xAxisIndex:4,yAxisIndex:4,data:idx(uCounts),clip:true,silent:true,z:2,encode:{x:-1,y:-1},renderItem:histRender(uCounts,'#1f77b4')},
  {type:'custom',name:'V (meridional)',xAxisIndex:4,yAxisIndex:4,data:idx(vCounts),clip:true,silent:true,z:3,encode:{x:-1,y:-1},renderItem:histRender(vCounts,'#ff7f0e')}
];
const panelTitle=(text,g,row)=>({text,left:g.left+g.width/2,top:row.top-22.2,textAlign:'center',textStyle:{fontFamily:FONT,fontSize:16.67,fontWeight:'normal',color:'#000'},padding:0});
const titles=[panelTitle('Flight Track',LEFT,ROW[0]),panelTitle('Wind Speed vs. Time',LEFT,ROW[1]),panelTitle('Latitude vs. Time',RIGHT,ROW[1]),panelTitle('Balloon Altitude vs. Time',LEFT,ROW[2]),panelTitle('U and V Wind Components',RIGHT,ROW[2])];

const infoLines=[
 ['Pico Balloon Archive',53,22.2,'#1a5276',1215],['Callsign: W0ZC-15   (APRS)',75,19.4,'#000',1215],
 ['2026-04-28 11:29:47  to  2026-06-13 20:19:09  UTC',96,15.3,'#000',1215],['Time aloft: 46.4 days    Data points: 4748',118.8,15.3,'#000',1215],
 ['Altitude: 12199 - 13301 m    (float 441 h)',142,15.3,'#000',1215],['Latitude range: 21.11 to 61.05',164.6,15.3,'#000',1215],
 ['Path length: 91,982 km',187.7,15.3,'#000',1215],['Position source: reported GPS    \u03C3(E,N) = 18, 18 m',210.8,15.3,'#000',1215],
 ['Median sampling gap: 1 min    Longest gap: 118.0 h',234,15.3,'#000',1215],['Data quality score: 0.861',258.6,18,'#1a5276',1215],
 ['precision=0.95   cadence=1.00   agreement=1.00   stability=0.98   coverage=0.40',278.6,12.5,'#555',1219.5]];
const T=(x,y,s,size,fill,align)=>({type:'text',z:100,x,y,silent:true,style:{text:s,fontFamily:FONT,fontSize:size,fill:fill||'#000',align:align||'left',verticalAlign:'middle'}});
const box=(x,y,w,h)=>({type:'rect',z:99,silent:true,shape:{x,y,width:w,height:h,r:3},style:{fill:'rgba(255,255,255,.8)',stroke:'#d5d5d5',lineWidth:1}});
const starPts=(cx,cy,R)=>{const r=R*.4,o=[];for(let i=0;i<10;i++){const a=-Math.PI/2+i*Math.PI/5,q=i%2?r:R;o.push([cx+q*Math.cos(a),cy+q*Math.sin(a)]);}return o;};
const graphics=[].concat(
  infoLines.map(l=>T(l[4],l[1],l[0],l[2],l[3],'center')),
  [box(90,284,79,50),
   {type:'circle',z:100,silent:true,shape:{cx:104.3,cy:293,r:2.2},style:{fill:'#c0392b'}},
   {type:'circle',z:100,silent:true,shape:{cx:104.3,cy:308.7,r:8.2},style:{fill:'#27ae60',stroke:'#000',lineWidth:1.4}},
   {type:'polygon',z:101,silent:true,shape:{points:starPts(104.3,324.2,10.5)},style:{fill:'#2980b9',stroke:'#000',lineWidth:1.4}},
   T(124,293,'Track',11.1),T(124,308.7,'Launch',11.1),T(124,323.7,'Last fix',11.1),
   box(89.3,426,162,50),
   {type:'rect',z:100,silent:true,shape:{x:93.3,y:430.7,width:23.4,height:9},style:{fill:'#7f8c8d',opacity:.35}},
   {type:'circle',z:100,silent:true,shape:{cx:104.3,cy:451.2,r:2},style:{fill:'#2c3e50'}},
   {type:'line',z:100,silent:true,shape:{x1:93,y1:465.7,x2:117,y2:465.7},style:{stroke:'#c0392b',lineWidth:1.7}},
   T(124.3,436,'\u00B11\u03C3 propagated error',11.1),T(124.3,451,'Wind speed',11.1),T(124.3,466.7,'Daily mean',11.1),
   box(1436.7,815,117,34),
   {type:'rect',z:100,silent:true,shape:{x:1440.7,y:820,width:23.4,height:8},style:{fill:'#1f77b4',stroke:'#000',lineWidth:1.1,opacity:.65}},
   {type:'rect',z:100,silent:true,shape:{x:1440.7,y:835.2,width:23.4,height:8},style:{fill:'#ff7f0e',stroke:'#000',lineWidth:1.1,opacity:.65}},
   T(1471,824.7,'U (zonal)',11.1),T(1471,839.7,'V (meridional)',11.1)]
);
const chart=echarts.init(document.getElementById('c'),null,{width:1587,height:1189});
chart.setOption({animation:false,backgroundColor:'#fff',textStyle:{fontFamily:FONT},
  title:titles,grid:grids,xAxis:xAxes,yAxis:yAxes,series,graphic:{elements:graphics}});
</script></body></html>
